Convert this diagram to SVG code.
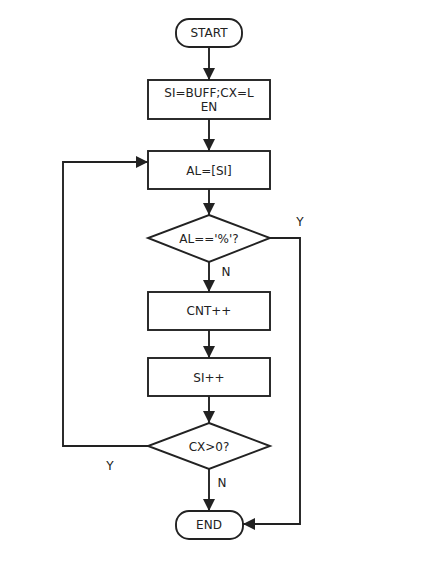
<svg xmlns="http://www.w3.org/2000/svg" width="424" height="570" viewBox="0 0 424 570">
<style>
.n{fill:#fff;stroke:#222;stroke-width:1.9}
.t{font-family:"DejaVu Sans","Liberation Sans",sans-serif;font-size:12px;fill:#222;text-anchor:middle;dominant-baseline:central}
.c{fill:none;stroke:#222;stroke-width:1.9}
</style>
<defs>
<marker id="a" viewBox="0 0 10 10" refX="10" refY="5" markerWidth="12" markerHeight="12" markerUnits="userSpaceOnUse" orient="auto">
<path d="M0,0 L10,5 L0,10 z" fill="#222"/>
</marker>
</defs>
<rect width="424" height="570" fill="#fff"/>
<g id="connectors">
<line class="c" x1="209" y1="47" x2="209" y2="80" marker-end="url(#a)"/>
<line class="c" x1="209" y1="119" x2="209" y2="151" marker-end="url(#a)"/>
<line class="c" x1="209" y1="189" x2="209" y2="215" marker-end="url(#a)"/>
<line class="c" x1="209" y1="262" x2="209" y2="292" marker-end="url(#a)"/>
<line class="c" x1="209" y1="330" x2="209" y2="358" marker-end="url(#a)"/>
<line class="c" x1="209" y1="396" x2="209" y2="423" marker-end="url(#a)"/>
<line class="c" x1="209" y1="469" x2="209" y2="511" marker-end="url(#a)"/>
<polyline class="c" points="270,238 300,238 300,524 243,524" marker-end="url(#a)"/>
<polyline class="c" points="148,446 63,446 63,162 148,162" marker-end="url(#a)"/>
<text class="t" x="300" y="222">Y</text>
<text class="t" x="226" y="272">N</text>
<text class="t" x="110" y="466">Y</text>
<text class="t" x="222" y="483">N</text>
</g>
<g id="start">
<rect class="n" x="176" y="19" width="66" height="28" rx="13"/>
<text class="t" x="209" y="33">START</text>
</g>
<g id="init">
<rect class="n" x="148" y="80" width="122" height="39"/>
<text class="t" x="209" y="93">SI=BUFF;CX=L</text>
<text class="t" x="209" y="107">EN</text>
</g>
<g id="load">
<rect class="n" x="148" y="151" width="122" height="38"/>
<text class="t" x="209" y="171">AL=[SI]</text>
</g>
<g id="check">
<polygon class="n" points="209,215 270,238 209,262 148,238"/>
<text class="t" x="209" y="239">AL=='%'?</text>
</g>
<g id="cnt">
<rect class="n" x="148" y="292" width="122" height="38"/>
<text class="t" x="209" y="311">CNT++</text>
</g>
<g id="si">
<rect class="n" x="148" y="358" width="122" height="38"/>
<text class="t" x="209" y="378">SI++</text>
</g>
<g id="cx">
<polygon class="n" points="209,423 270,446 209,469 148,446"/>
<text class="t" x="209" y="447">CX&gt;0?</text>
</g>
<g id="end">
<rect class="n" x="176" y="511" width="67" height="28" rx="13"/>
<text class="t" x="209" y="525">END</text>
</g>
</svg>
